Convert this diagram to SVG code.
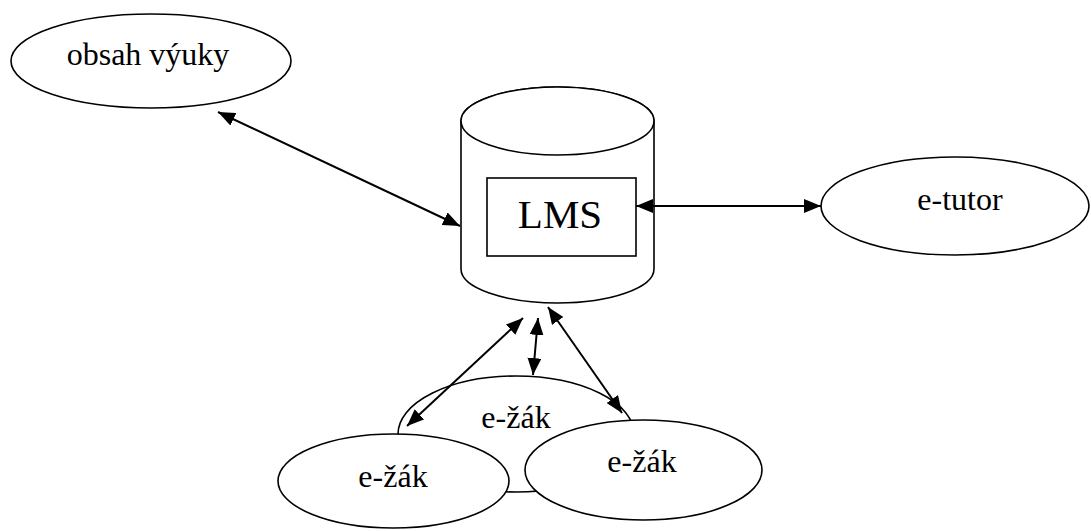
<svg xmlns="http://www.w3.org/2000/svg" width="1091" height="531" viewBox="0 0 1091 531">
<style>
.shape{fill:#fff;stroke:#000;stroke-width:1.6}
.lbl{font-family:'Liberation Serif','Times New Roman','DejaVu Serif',serif;font-size:32px;fill:#000;text-anchor:middle}
.conn{stroke:#000;stroke-width:2;fill:none;marker-start:url(#ah);marker-end:url(#ah)}
</style>
<defs>
<marker id="ah" markerUnits="userSpaceOnUse" markerWidth="17" markerHeight="14" refX="17" refY="7" orient="auto-start-reverse">
<path d="M0,0 L17,7 L0,14 z" fill="#000"/>
</marker>
</defs>
<rect width="1091" height="531" fill="#fff"/>
<g id="obsah">
<ellipse class="shape" cx="151" cy="61" rx="140" ry="47"/>
<text class="lbl" x="148" y="65" font-family="Liberation Serif, serif">obsah výuky</text>
</g>
<g id="lms">
<path class="shape" d="M461,121 L461,269 A96.5,34 0 0 0 654,269 L654,121 A96.5,34 0 0 0 461,121 Z"/>
<ellipse class="shape" cx="557.5" cy="121" rx="96.5" ry="34"/>
<rect class="shape" x="487" y="178" width="149" height="78"/>
<text class="lbl" x="560" y="228" font-size="41" font-family="Liberation Serif, serif" style="font-size:41px">LMS</text>
</g>
<g id="etutor">
<ellipse class="shape" cx="955" cy="206" rx="134" ry="49"/>
<text class="lbl" x="960" y="210" font-family="Liberation Serif, serif">e-tutor</text>
</g>
<g id="zak2">
<ellipse class="shape" cx="516" cy="434" rx="118" ry="58"/>
<text class="lbl" x="516" y="428" font-family="Liberation Serif, serif">e-žák</text>
</g>
<g id="zak1">
<ellipse class="shape" cx="393.5" cy="481" rx="115.5" ry="47"/>
<text class="lbl" x="393" y="487" font-family="Liberation Serif, serif">e-žák</text>
</g>
<g id="zak3">
<ellipse class="shape" cx="643.5" cy="470" rx="118.5" ry="50"/>
<text class="lbl" x="642" y="472" font-family="Liberation Serif, serif">e-žák</text>
</g>
<g id="connectors">
<line class="conn" x1="218" y1="112" x2="460" y2="226"/>
<line class="conn" x1="636" y1="206" x2="821" y2="206"/>
<line class="conn" x1="523" y1="318" x2="407" y2="426"/>
<line class="conn" x1="538" y1="318" x2="533" y2="375"/>
<line class="conn" x1="548" y1="307" x2="622" y2="413"/>
</g>
</svg>
